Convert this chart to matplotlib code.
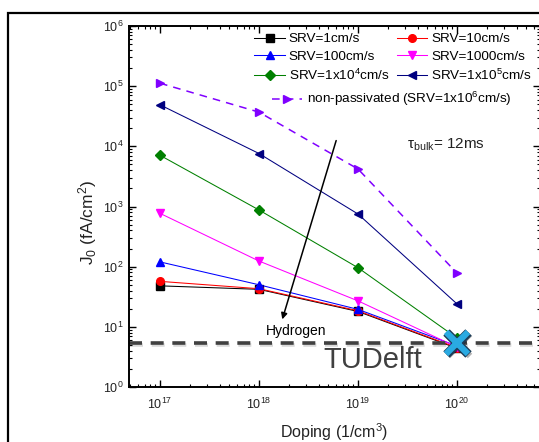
import numpy as np
import matplotlib
matplotlib.use("Agg")
import matplotlib.pyplot as plt
import matplotlib.patheffects as pe
from matplotlib.patches import Rectangle

plt.rcParams['font.family'] = ['Liberation Sans', 'DejaVu Sans']
plt.rcParams['mathtext.fontset'] = 'custom'
plt.rcParams['mathtext.rm'] = 'Liberation Sans'
plt.rcParams['mathtext.it'] = 'Liberation Sans:italic'
plt.rcParams['mathtext.default'] = 'regular'

### DATA ###
doping = [1e17, 1e18, 1e19, 1e20]

srv1 = [48, 42, 18, 4.4]
srv10 = [57, 43, 18.5, 4.5]
srv100 = [120, 50, 19.5, 4.8]
srv1000 = [770, 124, 27, 4.6]
srv1e4 = [7100, 875, 96, 6.5]
srv1e5 = [49000, 7600, 750, 24]
nonpass = [112000, 37000, 4200, 78]

hydrogen_level = 5.4
tudelft_point = (1e20, 5.4)

labels = ["SRV=1cm/s", "SRV=10cm/s", "SRV=100cm/s", "SRV=1000cm/s",
          "SRV=1x10$^4$cm/s", "SRV=1x10$^5$cm/s",
          "non-passivated (SRV=1x10$^6$cm/s)"]

### FIGURE ###
fig = plt.figure(figsize=(5.39, 4.42), dpi=100)
ax = fig.add_axes([129 / 539, 55 / 442, 411 / 539, 361 / 442])

# outer frame of the slide
fig.patches.append(Rectangle((7.5 / 539, -0.1), 1.2, (442 - 12.5) / 442 + 0.1,
                             transform=fig.transFigure, fill=False,
                             lw=1.6, ec='black', clip_on=False))

lw = 0.75
ms = 5.5
h1, = ax.plot(doping, srv1, color='black', marker='s', lw=lw, ms=ms, label=labels[0])
h2, = ax.plot(doping, srv10, color='red', marker='o', lw=lw, ms=ms, label=labels[1])
h3, = ax.plot(doping, srv100, color='blue', marker='^', lw=lw, ms=ms, label=labels[2])
h4, = ax.plot(doping, srv1000, color='magenta', marker='v', lw=lw, ms=ms, label=labels[3])
h5, = ax.plot(doping, srv1e4, color='green', marker='D', lw=lw, ms=ms - 0.5, label=labels[4])
h6, = ax.plot(doping, srv1e5, color='#000080', marker='<', lw=lw, ms=ms + 0.5, label=labels[5])
h7, = ax.plot(doping, nonpass, color='#8000FF', marker='>', lw=1.1, ms=ms + 0.5,
              linestyle=(0, (5, 4)), label=labels[6])

# hydrogen level line
ax.axhline(hydrogen_level, color='#404040', lw=2.6, linestyle=(0, (3.6, 2.4)),
           path_effects=[pe.SimpleLineShadow(offset=(0.5, -1.5), alpha=0.15), pe.Normal()])

# TUDelft cross
ax.plot([tudelft_point[0]], [tudelft_point[1]], marker='x', ms=16, color='#2AAAE2',
        mew=4.5, zorder=5,
        path_effects=[pe.SimpleLineShadow(offset=(1.5, -1.5), alpha=0.3),
                      pe.Stroke(linewidth=6.5, foreground='#1d3d58'), pe.Normal()])

ax.text(0.594, 0.075, "TUDelft", transform=ax.transAxes, fontsize=21,
        color='#404040', ha='center', va='center')
ax.text(0.407, 0.155, "Hydrogen", transform=ax.transAxes, fontsize=10,
        color='black', ha='center', va='center')
ax.text(0.677, 0.672, r"$\tau_{bulk}$= 12ms", transform=ax.transAxes,
        fontsize=11, color='#222222', ha='left', va='center')

ax.annotate("", xy=(0.371, 0.18), xytext=(0.506, 0.69),
            xycoords='axes fraction', textcoords='axes fraction',
            arrowprops=dict(arrowstyle='-|>', color='black', lw=1.1,
                            mutation_scale=9))

ax.set_xscale('log')
ax.set_yscale('log')
ax.set_xlim(10 ** 16.687, 10 ** 20.838)
ax.set_ylim(1, 1e6)
ax.set_xticks([1e17, 1e18, 1e19, 1e20])
ax.set_yticks([1, 10, 100, 1e3, 1e4, 1e5, 1e6])

ax.tick_params(which='both', direction='in', top=True, right=True,
               labelsize=9, labelcolor='#222222')
ax.tick_params(which='major', length=5, width=1)
ax.tick_params(which='minor', length=2.5, width=0.8)
ax.tick_params(axis='x', pad=7)
ax.tick_params(axis='y', pad=4)
for s in ax.spines.values():
    s.set_linewidth(1.4)

ax.set_xlabel("Doping (1/cm$^3$)", fontsize=11.5, color='#222222', labelpad=7)
ax.set_ylabel("J$_0$ (fA/cm$^2$)", fontsize=12.5, color='#222222')
ax.yaxis.set_label_coords(-0.073, 0.455)

leg1 = ax.legend([h1, h3, h5, h2, h4, h6],
                 [labels[0], labels[2], labels[4], labels[1], labels[3], labels[5]],
                 ncol=2, loc='upper left', bbox_to_anchor=(0.305, 0.981),
                 frameon=False, fontsize=9.7, handlelength=2.25,
                 handletextpad=0.3, columnspacing=0.55, labelspacing=0.36,
                 borderpad=0, borderaxespad=0)
ax.add_artist(leg1)
ax.legend([h7], [labels[6]], loc='upper left', bbox_to_anchor=(0.348, 0.822),
          frameon=False, fontsize=9.7, handlelength=2.2, handletextpad=0.4,
          borderpad=0, borderaxespad=0)

fig.savefig("out.png", dpi=100)
